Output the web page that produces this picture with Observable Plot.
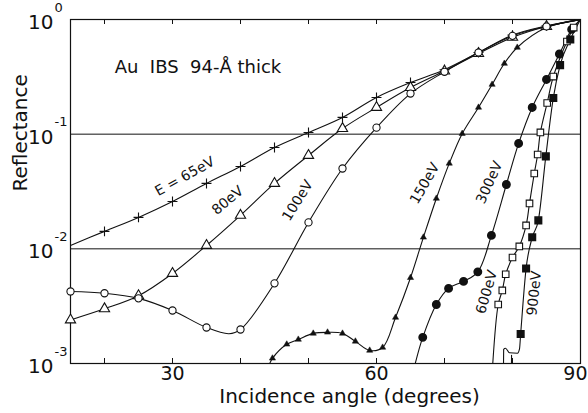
<!DOCTYPE html>
<html><head><meta charset="utf-8">
<script src="https://cdn.jsdelivr.net/npm/d3@7"></script>
<script src="https://cdn.jsdelivr.net/npm/@observablehq/plot@0.6"></script>
<style>
body{margin:0;background:#fff}
#chart svg{font-family:"DejaVu Sans",sans-serif}
</style>
</head><body><div id="chart"></div>
<script>
// ---- data (incidence angle in degrees, reflectance) ----
// markers
const e65Angle = [20,25,30,35,40,45,50,55,60,65,70,75,80,85];
const e65R     = [0.0142,0.0188,0.0259,0.0372,0.0523,0.0766,0.1035,0.140,0.209,0.282,0.365,0.515,0.73,0.88];
const e65ExtraAngle = [15,90];
const e65ExtraR     = [0.0107,1.0];

const e80Angle = [15,20,25,30,35,40,45,50,55,60,65,70,75,80,85];
const e80R     = [0.0024,0.0030,0.0039,0.0061,0.0107,0.0196,0.0372,0.0652,0.112,0.171,0.255,0.355,0.505,0.70,0.87];
const e80ExtraAngle = [90];
const e80ExtraR     = [1.0];

const e100Angle = [15,20,25,30,35,40,45,50,55,60,65,70,75,80,85];
const e100R     = [0.00425,0.0041,0.0037,0.0029,0.00206,0.00198,0.0050,0.0170,0.0502,0.114,0.226,0.35,0.515,0.72,0.87];
const e100ExtraAngle = [38.3,90];
const e100ExtraR     = [0.00182,1.0];

const e150Angle = [44.7,46.8,48.5,50.7,52.8,55.0,56.9,59.0,60.9,62.8,65.0,66.9,68.8,70.7,72.6,75.0,77.0,78.8,80.7];
const e150R     = [0.00111,0.00147,0.00162,0.00183,0.00187,0.00183,0.00156,0.0013,0.00138,0.00252,0.0056,0.0126,0.0275,0.0556,0.101,0.171,0.271,0.413,0.570];
const e150ExtraAngle = [44.3,85,90];
const e150ExtraR     = [0.001,0.85,1.0];

const e300Angle = [66.8,68.8,70.6,72.8,74.9,76.9,79.1,80.9,82.9,85.0,86.9,88.7];
const e300R     = [0.00169,0.00327,0.00452,0.0052,0.0063,0.0131,0.0364,0.083,0.171,0.30,0.50,0.82];
const e300ExtraAngle = [65.7,90];
const e300ExtraR     = [0.001,1.0];

const e600Angle = [77.9,78.5,79.0,80.0,81.0,82.0,82.5,83.2,83.7,84.1,85.1,86.0,88.0,89.0];
const e600R     = [0.00327,0.00434,0.006,0.0084,0.0105,0.016,0.0249,0.0454,0.0665,0.1035,0.187,0.318,0.643,0.85];
const e600ExtraAngle = [77.1,90];
const e600ExtraR     = [0.001,1.0];

const e900Angle = [81.2,82.0,82.9,83.8,84.9,86.0,87.0,88.5];
const e900R     = [0.00181,0.00675,0.0126,0.0177,0.064,0.207,0.40,0.67];
const e900ExtraAngle = [78.68,78.7,78.97,79.56,80.74,81.03,90];
const e900ExtraR     = [0.001,0.00133,0.00136,0.00124,0.00123,0.00134,1.0];
// short stray segment below the 900 eV curve
const e900bAngle = [79.85,79.86];
const e900bR     = [0.001,0.00118];

const xTicks = [20,30,40,50,60,70,80];
const xLabelTicks = [30,60,90];
const yTicks = [1,0.1,0.01,0.001];
const yExp = ["0","-1","-2","-3"];
const gridR = [0.1,0.01];

// ---- build ----
const pts = (a, r) => a.map((x, i) => ({a: x, r: r[i]}));
const curve = (a, r, ea, er) => pts(a, r).concat(pts(ea, er)).sort((p, q) => p.a - q.a);

const ink = "#111";
const lineOpts = {x: "a", y: "r", curve: "catmull-rom", clip: true, stroke: ink, strokeWidth: 1.1};
const lastTick = xLabelTicks[xLabelTicks.length - 1];

const chart = Plot.plot({
  width: 588, height: 413,
  marginLeft: 70, marginRight: 8, marginTop: 19, marginBottom: 50,
  x: {domain: [15, 90], axis: null},
  y: {type: "log", domain: [1e-3, 1], axis: null},
  style: {fontFamily: "DejaVu Sans, sans-serif", fontSize: "20px", background: "white", color: ink},
  marks: [
    Plot.ruleY(gridR, {y: d => d, stroke: ink, strokeWidth: 1}),
    Plot.ruleX(xTicks, {x: d => d, insetTop: 339, stroke: ink}),
    Plot.ruleX(xTicks, {x: d => d, insetBottom: 339, stroke: ink}),
    Plot.frame({stroke: ink, strokeWidth: 1.2}),
    Plot.text(xLabelTicks.filter(d => d !== lastTick), {x: d => d, frameAnchor: "bottom", dy: 16, text: d => String(d), fontSize: 19}),
    Plot.text([lastTick], {x: d => d, frameAnchor: "bottom", dy: 16, dx: 7, textAnchor: "end", text: d => String(d), fontSize: 19}),
    Plot.text(yTicks, {y: d => d, frameAnchor: "left", text: () => "10", dx: -17, dy: 3, textAnchor: "end", fontSize: 20}),
    Plot.text(yTicks, {y: d => d, frameAnchor: "left", text: (d, i) => yExp[i], dx: -16, dy: -12, textAnchor: "start", fontSize: 13}),
    Plot.text(["Reflectance"], {frameAnchor: "left", dx: -50, rotate: -90, fontSize: 20}),
    Plot.text(["Incidence angle (degrees)"], {frameAnchor: "bottom", dx: 24, dy: 39, fontSize: 20}),

    Plot.line(curve(e65Angle, e65R, e65ExtraAngle, e65ExtraR), lineOpts),
    Plot.line(curve(e80Angle, e80R, e80ExtraAngle, e80ExtraR), lineOpts),
    Plot.line(curve(e100Angle, e100R, e100ExtraAngle, e100ExtraR), lineOpts),
    Plot.line(curve(e150Angle, e150R, e150ExtraAngle, e150ExtraR), lineOpts),
    Plot.line(curve(e300Angle, e300R, e300ExtraAngle, e300ExtraR), lineOpts),
    Plot.line(curve(e600Angle, e600R, e600ExtraAngle, e600ExtraR), lineOpts),
    Plot.line(curve(e900Angle, e900R, e900ExtraAngle, e900ExtraR), {...lineOpts, curve: "monotone-x"}),
    Plot.line(pts(e900bAngle, e900bR), {...lineOpts, curve: "linear"}),

    Plot.dot(pts(e65Angle, e65R), {x: "a", y: "r", symbol: "plus", r: 3.3, stroke: ink, strokeWidth: 1.1}),
    Plot.dot(pts(e80Angle, e80R), {x: "a", y: "r", symbol: "triangle", r: 3.8, stroke: ink, fill: "white", strokeWidth: 1.1}),
    Plot.dot(pts(e100Angle, e100R), {x: "a", y: "r", symbol: "circle", r: 3.6, stroke: ink, fill: "white", strokeWidth: 1.1}),
    Plot.dot(pts(e150Angle, e150R), {x: "a", y: "r", symbol: "triangle", r: 2.3, fill: ink, stroke: ink, strokeWidth: 0.5}),
    Plot.dot(pts(e300Angle, e300R), {x: "a", y: "r", symbol: "circle", r: 3.7, fill: ink, stroke: ink}),
    Plot.dot(pts(e600Angle, e600R), {x: "a", y: "r", symbol: "square", r: 3.7, fill: "white", stroke: ink, strokeWidth: 1.1}),
    Plot.dot(pts(e900Angle, e900R), {x: "a", y: "r", symbol: "square", r: 3.7, fill: ink, stroke: ink}),

    Plot.text(["Au\u00a0\u00a0IBS\u00a0\u00a094-Å thick"], {x: 21.5, y: 0.385, textAnchor: "start", fontSize: 18}),
    Plot.text(["E = 65eV"], {x: 31.8, y: 0.0428, rotate: -29, fontSize: 14}),
    Plot.text(["80eV"], {x: 38.1, y: 0.0264, rotate: -40, fontSize: 14}),
    Plot.text(["100eV"], {x: 48.4, y: 0.0264, rotate: -58, fontSize: 14}),
    Plot.text(["150eV"], {x: 67.1, y: 0.0372, rotate: -60, fontSize: 14}),
    Plot.text(["300eV"], {x: 76.6, y: 0.038, rotate: -66, fontSize: 14}),
    Plot.text(["600eV"], {x: 76.2, y: 0.0042, rotate: -74, fontSize: 14}),
    Plot.text(["900eV"], {x: 83.2, y: 0.0041, rotate: -84, fontSize: 14})
  ]
});
document.getElementById("chart").appendChild(chart);
</script>
</body></html>
